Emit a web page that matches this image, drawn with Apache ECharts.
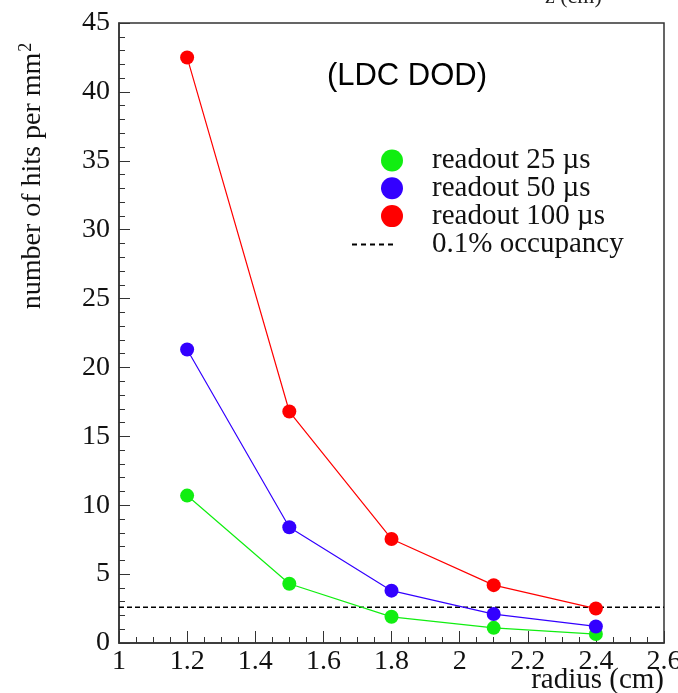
<!DOCTYPE html>
<html>
<head>
<meta charset="utf-8">
<script src="https://cdn.jsdelivr.net/npm/echarts@6/dist/echarts.min.js"></script>
<style>
  html, body { margin: 0; padding: 0; background: #fff; }
  #chart { width: 678px; height: 693px; }
</style>
</head>
<body>
<div id="chart"></div>
<script>
// radius values (cm)
const radius = [1.2, 1.5, 1.8, 2.1, 2.4];
// hits per mm^2
const readout25 = [10.7, 4.3, 1.9, 1.1, 0.65];
const readout50 = [21.3, 8.4, 3.8, 2.1, 1.2];
const readout100 = [42.5, 16.8, 7.55, 4.2, 2.5];
const occupancyLevel = 2.6;
const xRange = [1, 2.6];

const serif = "'Liberation Serif', 'DejaVu Serif', serif";
const dashIcon = "path://M0,0H5V2H0Z M9,0H14V2H9Z M18,0H23V2H18Z M27,0H32V2H27Z M36,0H41V2H36Z";

function pairs(ys) {
  return radius.map((r, i) => [r, ys[i]]);
}

let myChart = echarts.init(document.getElementById("chart"));
let option = {
  animation: false,
  grid: { left: 119, top: 23, right: 14, bottom: 50, outerBoundsMode: "none", containLabel: false },
  title: {
    text: "(LDC DOD)",
    left: 402,
    top: 56,
    textAlign: "center",
    textStyle: { fontFamily: "'Liberation Sans', Arial, sans-serif", fontSize: 31, fontWeight: "normal", color: "#000" },
  },
  legend: [
    {
      orient: "vertical",
      left: 376,
      top: 141,
      itemGap: -1.2,
      itemWidth: 22,
      itemHeight: 22,
      textStyle: { fontFamily: serif, fontSize: 29, lineHeight: 27, color: "#111", padding: [0, 0, 0, 24] },
      data: [
        { name: "readout 25 µs", icon: "circle" },
        { name: "readout 50 µs", icon: "circle" },
        { name: "readout 100 µs", icon: "circle" },
      ],
    },
    {
      orient: "vertical",
      left: 347,
      top: 225,
      itemWidth: 41,
      itemHeight: 2,
      textStyle: { fontFamily: serif, fontSize: 29, lineHeight: 27, color: "#111", padding: [0, 0, 0, 34] },
      data: [{ name: "0.1% occupancy", icon: dashIcon }],
    },
  ],
  xAxis: {
    type: "value",
    min: 1,
    max: 2.6,
    interval: 0.2,
    axisLine: { show: true, lineStyle: { color: "#333", width: 1.5 } },
    axisTick: { inside: true, length: 12, lineStyle: { color: "#333" } },
    minorTick: { show: true, splitNumber: 4, length: 6, lineStyle: { color: "#333" } },
    axisLabel: { fontFamily: serif, fontSize: 28, color: "#111", margin: 5, formatter: (v) => String(+v.toFixed(1)) },
    splitLine: { show: false },
  },
  yAxis: {
    type: "value",
    min: 0,
    max: 45,
    interval: 5,
    axisLine: { show: true, lineStyle: { color: "#333", width: 1.5 } },
    axisTick: { inside: true, length: 11, lineStyle: { color: "#333" } },
    minorTick: { show: true, splitNumber: 5, length: 6, lineStyle: { color: "#333" } },
    axisLabel: { fontFamily: serif, fontSize: 28, color: "#111", margin: 9 },
    splitLine: { show: false },
  },
  series: [
    {
      name: "readout 25 µs",
      type: "line",
      data: pairs(readout25),
      symbol: "circle",
      symbolSize: 14,
      color: "#11ee11",
      lineStyle: { width: 1.2 },
    },
    {
      name: "readout 50 µs",
      type: "line",
      data: pairs(readout50),
      symbol: "circle",
      symbolSize: 14,
      color: "#3300ff",
      lineStyle: { width: 1.2 },
    },
    {
      name: "readout 100 µs",
      type: "line",
      data: pairs(readout100),
      symbol: "circle",
      symbolSize: 14,
      color: "#ff0000",
      lineStyle: { width: 1.2 },
    },
    {
      name: "0.1% occupancy",
      type: "line",
      data: xRange.map((x) => [x, occupancyLevel]),
      symbol: "none",
      color: "#000",
      lineStyle: { width: 1.5, type: [5, 3] },
      z: 1,
    },
  ],
  graphic: [
    // plot frame (top and right sides)
    { type: "rect", shape: { x: 119, y: 23, width: 545, height: 620 }, style: { fill: "none", stroke: "#333", lineWidth: 1.5 }, silent: true },
    // y axis title
    {
      type: "text",
      x: 33,
      y: 176,
      rotation: Math.PI / 2,
      style: {
        text: "number of hits per mm{sup|2}",
        font: "28px " + serif,
        fill: "#111",
        align: "center",
        verticalAlign: "middle",
        rich: { sup: { fontFamily: serif, fontSize: 18, verticalAlign: "top", padding: [0, 0, 14, 1] } },
      },
    },
    // x axis title
    { type: "text", x: 664, y: 695, style: { text: "radius (cm)", font: "29px " + serif, fill: "#111", align: "right", verticalAlign: "bottom" } },
    // cut-off label at top right edge of the page
    { type: "text", x: 545, y: -14, style: { text: "z (cm)", font: "22px " + serif, fill: "#222" } },
  ],
};
myChart.setOption(option);
</script>
</body>
</html>
